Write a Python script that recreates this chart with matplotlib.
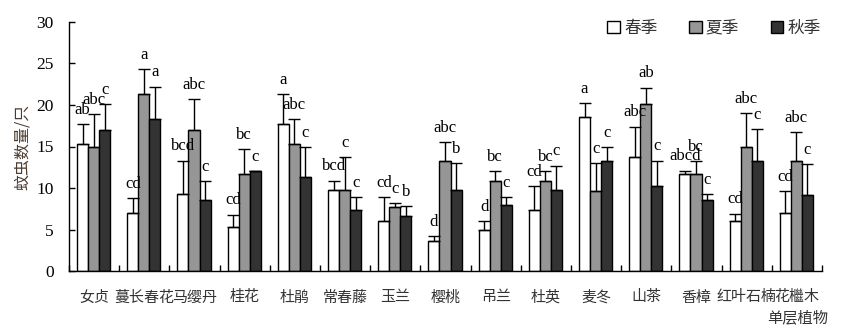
import matplotlib
matplotlib.use("Agg")
import matplotlib.pyplot as plt
import numpy as np

plt.rcParams['font.family'] = ['Liberation Serif', 'Noto Sans CJK SC']

categories = ['女贞', '蔓长春花', '马缨丹', '桂花', '杜鹃', '常春藤', '玉兰', '樱桃',
              '吊兰', '杜英', '麦冬', '山茶', '香樟', '红叶石楠', '花檵木']
series_names = ['春季', '夏季', '秋季']

spring = [15.3, 7.0, 9.3, 5.3, 17.7, 9.8, 6.0, 3.6, 4.9, 7.3, 18.6, 13.7, 11.7, 6.0, 7.0]
spring_top = [17.7, 8.8, 13.3, 6.8, 21.3, 10.9, 8.9, 4.2, 6.0, 10.2, 20.2, 17.4, 12.1, 6.9, 9.6]
summer = [14.9, 21.3, 17.0, 11.7, 15.3, 9.8, 7.7, 13.3, 10.9, 10.9, 9.6, 20.1, 11.7, 14.9, 13.3]
summer_top = [18.9, 24.3, 20.7, 14.7, 18.3, 13.7, 8.2, 15.5, 12.0, 12.0, 13.0, 22.1, 13.2, 19.0, 16.7]
autumn = [17.0, 18.3, 8.6, 12.0, 11.3, 7.3, 6.6, 9.8, 8.0, 9.8, 13.3, 10.2, 8.6, 13.3, 9.2]
autumn_top = [20.1, 22.2, 10.8, 12.0, 14.9, 8.9, 7.8, 13.0, 8.9, 12.7, 14.9, 13.3, 9.3, 17.1, 12.9]

spring_letters = ['ab', 'cd', 'bcd', 'cd', 'a', 'bcd', 'cd', 'd', 'd', 'cd', 'a', 'abc', 'abcd', 'cd', 'cd']
summer_letters = ['abc', 'a', 'abc', 'bc', 'abc', 'c', 'c', 'abc', 'bc', 'bc', 'c', 'ab', 'bc', 'abc', 'abc']
autumn_letters = ['c', 'a', 'c', 'c', 'c', 'c', 'b', 'b', 'c', 'c', 'c', 'c', 'c', 'c', 'c']

fig = plt.figure(figsize=(8.43, 3.31), dpi=100)
ax = fig.add_axes([69/843, 1-271/331, (822-69)/843, (271-22)/331])

x = np.arange(len(categories))
w = 0.22
offsets = [-0.23, -0.01, 0.21]
colors = ['white', '#969696', '#333333']
vals = [spring, summer, autumn]
tops = [spring_top, summer_top, autumn_top]
letters = [spring_letters, summer_letters, autumn_letters]

for i in range(3):
    v = np.array(vals[i])
    t = np.array(tops[i])
    err = np.vstack([np.zeros_like(v), np.maximum(t - v, 0)])
    xs = x + offsets[i]
    ax.bar(xs, v, width=w, color=colors[i], edgecolor='black', linewidth=1.0,
           label=series_names[i], zorder=2)
    ax.errorbar(xs, v, yerr=err, fmt='none', ecolor='black', elinewidth=1.0,
                capsize=4.2, capthick=1.0, zorder=3)
    for xi, ti, lab in zip(xs, t, letters[i]):
        ax.annotate(lab, (xi, ti), xytext=(0, 4.5), textcoords='offset points',
                    ha='center', va='bottom', fontsize=12, color='black',
                    family='Liberation Serif')

ax.set_xlim(-0.5, len(categories) - 0.5)
ax.set_ylim(0, 30)
ax.set_yticks(np.arange(0, 31, 5))
ax.tick_params(axis='y', direction='in', length=4, width=1, pad=11, labelsize=12.5)

ax.set_xticks(np.arange(-0.5, len(categories), 1.0), minor=False)
ax.set_xticklabels([])
ax.set_xticks(x, minor=True)
ax.set_xticklabels(categories, minor=True, fontsize=10.8, color='#333333',
                   family=['Noto Sans CJK SC'])
ax.tick_params(axis='x', which='major', direction='in', length=4, width=1)
ax.tick_params(axis='x', which='minor', length=0, pad=14)

for s in ['top', 'right']:
    ax.spines[s].set_visible(False)
for s in ['left', 'bottom']:
    ax.spines[s].set_linewidth(1.0)

ax.set_ylabel('蚊虫数量/只', fontsize=11.5, color='#4a3a30', family=['Noto Sans CJK SC'],
              labelpad=4)
fig.text(828/843, 1-318/331, '单层植物', ha='right', va='center', fontsize=11,
         color='#333333', family=['Noto Sans CJK SC'])

leg = ax.legend(loc='upper right', bbox_to_anchor=(1.018, 1.07), ncol=3, frameon=False,
                prop={'family': ['Noto Sans CJK SC'], 'size': 12},
                handlelength=0.75, handleheight=0.75, handletextpad=0.25,
                columnspacing=1.9)
for t in leg.get_texts():
    t.set_color('#333333')

fig.savefig('out.png', dpi=100)
